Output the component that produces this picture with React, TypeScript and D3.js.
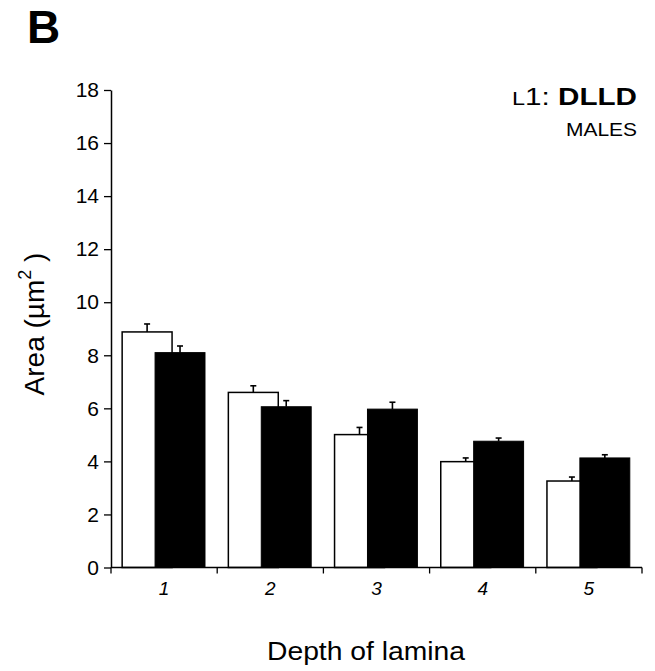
import { useEffect, useRef } from 'react';
import * as d3 from 'd3';

// area per depth of lamina, open vs filled bars
const depths = ['1', '2', '3', '4', '5'];
const openValues = [8.88, 6.6, 5.01, 3.99, 3.26];
const openErrors = [0.3, 0.25, 0.27, 0.14, 0.15];
const filledValues = [8.1, 6.06, 5.97, 4.76, 4.13];
const filledErrors = [0.25, 0.23, 0.26, 0.12, 0.12];
const yTicks = [0, 2, 4, 6, 8, 10, 12, 14, 16, 18];

const W = 655;
const H = 671;
const M = { top: 90, right: 13, bottom: 103.5, left: 111 };
const FONT = 'Liberation Sans, Arial, Helvetica, sans-serif';

export default function App() {
  const axisY = useRef<SVGGElement>(null);
  const axisX = useRef<SVGGElement>(null);

  const innerW = W - M.left - M.right;
  const innerH = H - M.top - M.bottom;

  const x = d3.scaleBand<string>().domain(depths).range([0, innerW]);
  const y = d3.scaleLinear().domain([0, 18]).range([innerH, 0]);

  const bw = x.bandwidth();
  const barW = bw * 0.47;
  const openX = (d: string) => (x(d) ?? 0) + bw * 0.105;
  const filledX = (d: string) => (x(d) ?? 0) + bw * 0.415;

  useEffect(() => {
    const gy = d3.select(axisY.current!);
    gy.call(d3.axisLeft(y).tickValues(yTicks).tickSize(7).tickPadding(5).tickSizeOuter(0));
    gy.attr('font-size', 21).attr('font-family', FONT);
    gy.select('.domain').attr('stroke-width', 1.5);
    gy.selectAll('.tick line').attr('stroke-width', 1.3);
    gy.selectAll('.tick text').attr('fill', '#000').style('font-size', '21px');

    const gx = d3.select(axisX.current!);
    const edges = d3.range(depths.length + 1).map((i) => i * bw);
    gx.selectAll('*').remove();
    gx.append('line')
      .attr('x1', 0)
      .attr('x2', innerW)
      .attr('stroke', '#000')
      .attr('stroke-width', 1.5);
    gx.selectAll('line.edge')
      .data(edges)
      .join('line')
      .attr('class', 'edge')
      .attr('x1', (d) => d)
      .attr('x2', (d) => d)
      .attr('y1', 0)
      .attr('y2', 6)
      .attr('stroke', '#000')
      .attr('stroke-width', 1.3);
    gx.selectAll('text')
      .data(depths)
      .join('text')
      .attr('x', (d) => (x(d) ?? 0) + bw / 2)
      .attr('y', 27.5)
      .attr('text-anchor', 'middle')
      .attr('font-family', FONT)
      .attr('font-style', 'italic')
      .style('font-size', '19px')
      .text((d) => d);
  }, []);

  const errBar = (cx: number, v: number, e: number, key: string) => (
    <g key={key} stroke="#000" strokeWidth={1.6}>
      <line x1={cx} x2={cx} y1={y(v)} y2={y(v + e)} />
      <line x1={cx - 3} x2={cx + 3} y1={y(v + e)} y2={y(v + e)} />
    </g>
  );

  return (
    <svg
      width={W}
      height={H}
      style={{ position: 'absolute', left: 0, top: 0, background: '#fff' }}
    >
      <text x={27} y={43} fontFamily={FONT} fontWeight="bold" fontSize={46}>
        B
      </text>
      <g transform={`translate(${M.left},${M.top})`}>
        {depths.map((d, i) => (
          <g key={d}>
            {errBar(openX(d) + barW / 2, openValues[i], openErrors[i], `oe${d}`)}
            <rect
              x={openX(d)}
              y={y(openValues[i])}
              width={barW}
              height={innerH - y(openValues[i])}
              fill="#fff"
              stroke="#000"
              strokeWidth={1.5}
            />
            {errBar(filledX(d) + barW / 2, filledValues[i], filledErrors[i], `fe${d}`)}
            <rect
              x={filledX(d)}
              y={y(filledValues[i])}
              width={barW}
              height={innerH - y(filledValues[i])}
              fill="#000"
              stroke="#000"
              strokeWidth={1}
            />
          </g>
        ))}
        <g ref={axisY} />
        <g ref={axisX} transform={`translate(0,${innerH})`} />
      </g>
      <text
        x={512}
        y={105}
        fontFamily={FONT}
        fontSize={24}
        textLength={125}
        lengthAdjust="spacingAndGlyphs"
      >
        <tspan fontSize={19}>L</tspan>
        <tspan>1: </tspan>
        <tspan fontWeight="bold">DLLD</tspan>
      </text>
      <text
        x={566}
        y={136}
        fontFamily={FONT}
        fontSize={17.5}
        textLength={71}
        lengthAdjust="spacingAndGlyphs"
      >
        MALES
      </text>
      <text
        transform={`translate(44,324) rotate(-90)`}
        textAnchor="middle"
        fontFamily={FONT}
        fontSize={28}
      >
        Area (µm
        <tspan fontSize={18} dy={-13}>2</tspan>
        <tspan dy={13}> )</tspan>
      </text>
      <text
        x={267}
        y={660}
        fontFamily={FONT}
        fontSize={25}
        textLength={198}
        lengthAdjust="spacingAndGlyphs"
      >
        Depth of lamina
      </text>
    </svg>
  );
}
